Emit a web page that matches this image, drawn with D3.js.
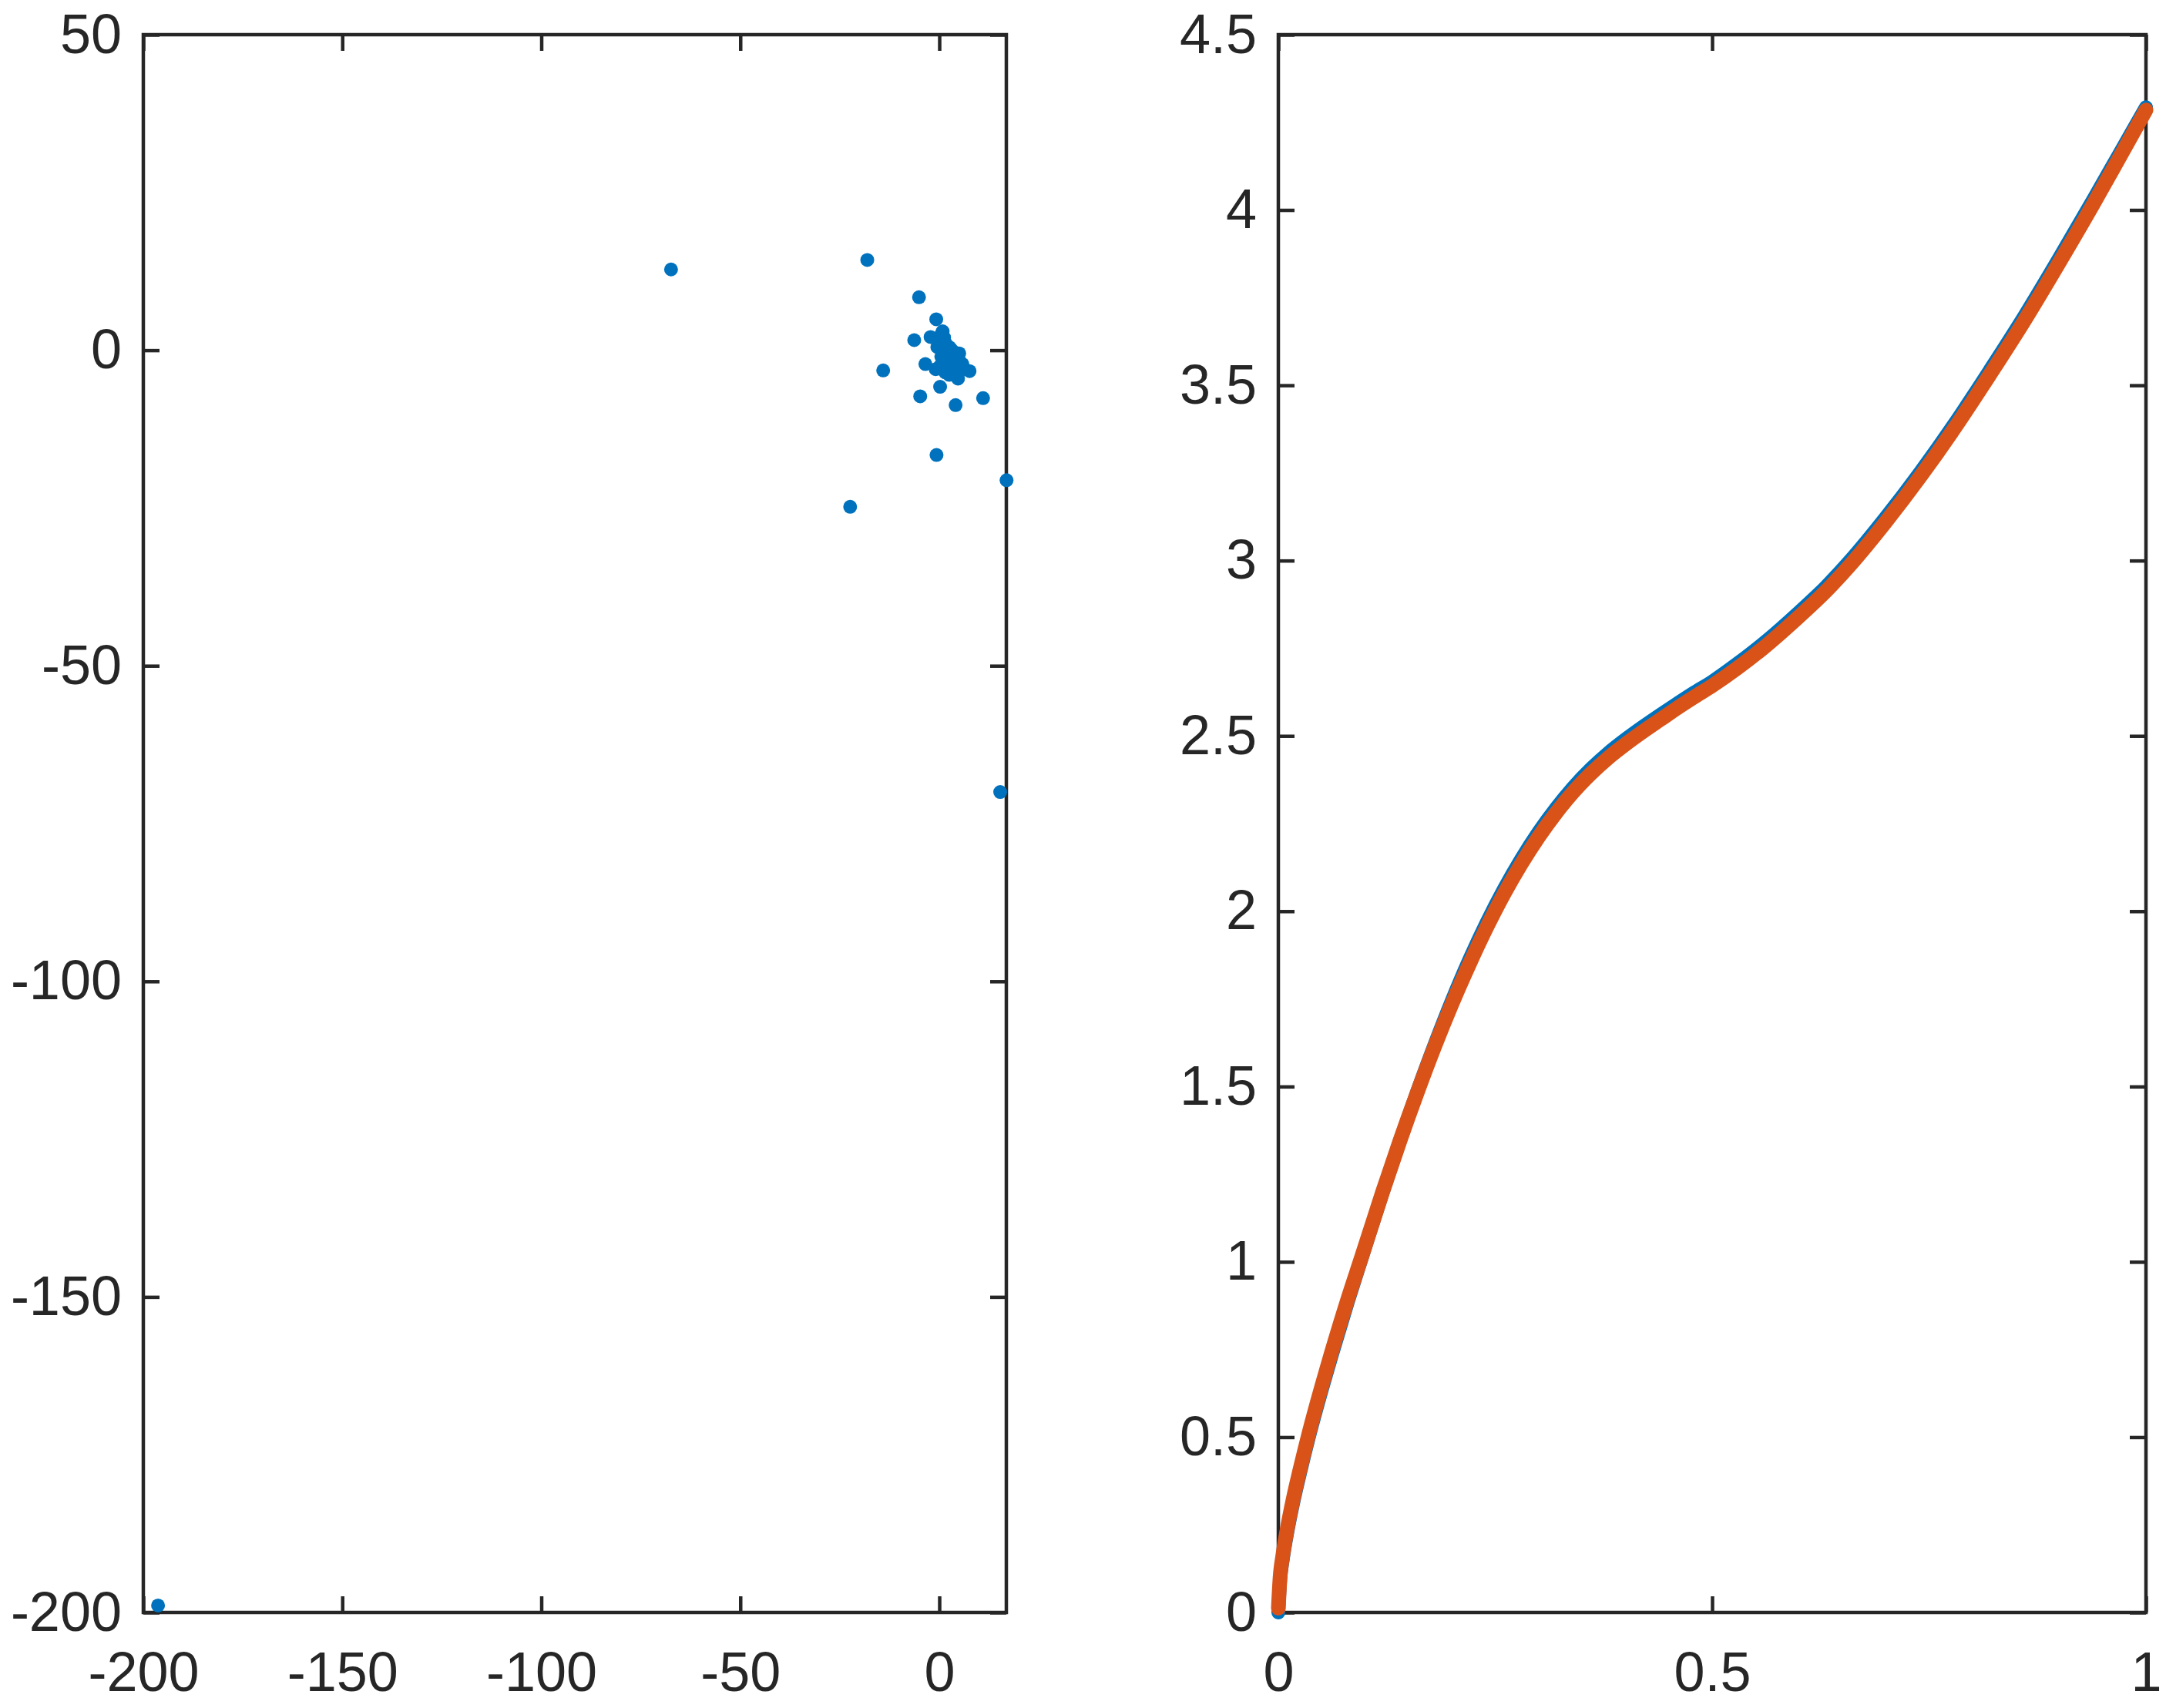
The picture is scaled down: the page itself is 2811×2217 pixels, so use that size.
<!DOCTYPE html>
<html>
<head>
<meta charset="utf-8">
<script src="https://cdn.jsdelivr.net/npm/d3@7"></script>
<style>
html,body{margin:0;padding:0;background:#fff;}
svg{display:block;}
.tick text{font-family:"Liberation Sans",Arial,Helvetica,sans-serif;font-size:72px;fill:#262626;}
</style>
</head>
<body>
<svg id="chart" width="2811" height="2217"></svg>
<script>
// ---- Left panel: scatter data ----
const scatterX = [-196.3, -67.4, -22.4, -18.1, -14.1, -6.3, -5.1, -4.8, -3.5, -2.2, -0.77, -0.9, -0.7, 0.2, 0.84, 2.5, 4.1, 4.7, 7.6, 11.0, 15.3, 16.9,
  0.5, 1.2, 0.0, 1.5, 2.5, 1.0, 2.0, 3.0, 3.5, 4.0, 2.8, 1.8, 0.5, 4.5, 5.2, 3.2, 2.0, 0.2, 1.5, 4.2, 5.8, 6.0, 3.8, 2.2, 1.0, -0.5, 2.9, 5.0];
const scatterY = [-198.9, 12.8, -24.8, 14.3, -3.2, 1.6, 8.4, -7.3, -2.2, 2.1, 4.9, -3.0, -16.6, -5.8, 3.0, -3.9, -8.7, -4.5, -3.3, -7.6, -70.0, -20.6,
  2.5, 2.0, 1.0, 1.2, 0.5, 0.0, -0.5, -1.0, -0.2, -1.5, -2.0, -1.5, -1.0, -2.5, -1.8, -3.0, -2.8, -2.5, -3.5, -0.8, -2.2, -3.0, -3.8, -1.0, 1.8, 0.5, 0.2, -0.5];
const leftXTicks = [-200, -150, -100, -50, 0];
const leftYTicks = [-200, -150, -100, -50, 0, 50];

// ---- Right panel: curve data ----
const tVals = [0, 0.002, 0.005, 0.01, 0.017, 0.025, 0.036, 0.05, 0.061, 0.08, 0.096, 0.12, 0.14, 0.16, 0.18, 0.20, 0.22, 0.24, 0.26, 0.28, 0.30, 0.32, 0.34, 0.36, 0.38, 0.40, 0.42, 0.44, 0.46, 0.48, 0.50, 0.53, 0.56, 0.60, 0.63, 0.66, 0.70, 0.74, 0.78, 0.82, 0.86, 0.90, 0.94, 0.97, 1.00];
const blueVals = [0, 0.09, 0.15, 0.225, 0.312, 0.398, 0.508, 0.635, 0.729, 0.885, 1.01, 1.196, 1.344, 1.485, 1.619, 1.745, 1.861, 1.967, 2.063, 2.149, 2.226, 2.294, 2.354, 2.406, 2.451, 2.49, 2.526, 2.56, 2.593, 2.625, 2.655, 2.708, 2.766, 2.853, 2.923, 3.003, 3.123, 3.253, 3.393, 3.543, 3.698, 3.863, 4.033, 4.163, 4.293];
const orangeVals = [0.012, 0.10, 0.16, 0.235, 0.322, 0.408, 0.518, 0.645, 0.739, 0.893, 1.014, 1.198, 1.344, 1.482, 1.613, 1.735, 1.848, 1.953, 2.049, 2.135, 2.212, 2.28, 2.34, 2.392, 2.437, 2.476, 2.512, 2.546, 2.58, 2.612, 2.643, 2.695, 2.753, 2.84, 2.91, 2.99, 3.11, 3.24, 3.38, 3.53, 3.685, 3.85, 4.02, 4.152, 4.285];
const rightXTicks = [0, 0.5, 1];
const rightYTicks = [0, 0.5, 1, 1.5, 2, 2.5, 3, 3.5, 4, 4.5];

const AX = "#262626", BLUE = "#0072BD", ORANGE = "#D95319";
const svg = d3.select("#chart");
const TICK = 21, LW = 4.5;
const fmt = v => String(v);   // plain hyphen-minus, as in the reference

function drawAxes(g, x, y, xt, yt) {
  const [x0, x1] = x.range(), [y0, y1] = y.range();
  const gb = g.append("g").attr("transform", `translate(0,${y0})`)
    .call(d3.axisBottom(x).tickValues(xt).tickFormat(fmt).tickSizeInner(-TICK).tickSizeOuter(0).tickPadding(51));
  const gt = g.append("g").attr("transform", `translate(0,${y1})`)
    .call(d3.axisTop(x).tickValues(xt).tickFormat("").tickSizeInner(-TICK).tickSizeOuter(0));
  const gl = g.append("g").attr("transform", `translate(${x0},0)`)
    .call(d3.axisLeft(y).tickValues(yt).tickFormat(fmt).tickSizeInner(-TICK).tickSizeOuter(0).tickPadding(28));
  const gr = g.append("g").attr("transform", `translate(${x1},0)`)
    .call(d3.axisRight(y).tickValues(yt).tickFormat("").tickSizeInner(-TICK).tickSizeOuter(0));
  [gb, gt, gl, gr].forEach(a => {
    a.select(".domain").remove();
    a.selectAll(".tick line").attr("stroke", AX).attr("stroke-width", LW);
    a.selectAll(".tick text").attr("fill", AX).attr("font-size", 72)
      .attr("font-family", "'Liberation Sans', Arial, Helvetica, sans-serif");
  });
  g.append("rect").attr("x", x0).attr("y", y1).attr("width", x1 - x0).attr("height", y0 - y1)
    .attr("fill", "none").attr("stroke", AX).attr("stroke-width", LW).attr("stroke-linejoin", "miter");
}

// Left panel
const xL = d3.scaleLinear().domain([-200, 16.84]).range([186, 1306]);
const yL = d3.scaleLinear().domain([-200, 50]).range([2093, 45]);
const gL = svg.append("g");
drawAxes(gL, xL, yL, leftXTicks, leftYTicks);
const pts = scatterX.map((v, i) => ({x: v, y: scatterY[i]}));
gL.append("g").selectAll("circle").data(pts).join("circle")
  .attr("cx", d => xL(d.x)).attr("cy", d => yL(d.y)).attr("r", 9).attr("fill", BLUE);

// Right panel
const xR = d3.scaleLinear().domain([0, 1]).range([1659, 2785]);
const yR = d3.scaleLinear().domain([0, 4.5]).range([2093, 45]);
const gR = svg.append("g");
drawAxes(gR, xR, yR, rightXTicks, rightYTicks);
const line = d3.line().x(d => xR(d[0])).y(d => yR(d[1])).curve(d3.curveMonotoneX);
gR.append("path").datum(tVals.map((t, i) => [t, blueVals[i]]))
  .attr("d", line).attr("fill", "none").attr("stroke", BLUE).attr("stroke-width", 18)
  .attr("stroke-linecap", "round").attr("stroke-linejoin", "round");
gR.append("path").datum(tVals.map((t, i) => [t, orangeVals[i]]))
  .attr("d", line).attr("fill", "none").attr("stroke", ORANGE).attr("stroke-width", 19)
  .attr("stroke-linecap", "round").attr("stroke-linejoin", "round");
</script>
</body>
</html>
